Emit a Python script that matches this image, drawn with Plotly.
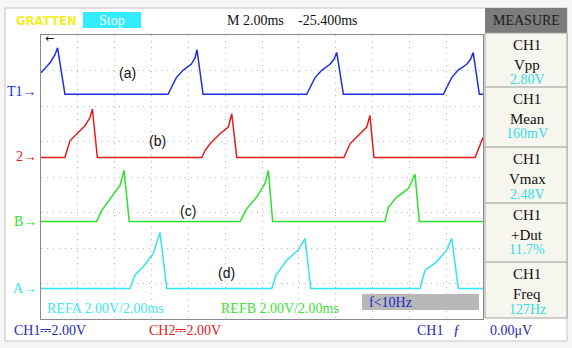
import plotly.graph_objects as go

W, H = 572, 348

blue_t = [0.00, 0.49, 0.76, 0.90, 1.30, 6.90, 7.08, 7.35, 7.71, 8.15, 8.36, 8.47, 8.80,
          14.43, 14.61, 14.88, 15.24, 15.69, 15.91, 16.06, 16.42,
          21.85, 22.03, 22.30, 22.64, 23.12, 23.32, 23.47, 23.80, 24.00]
blue_v = [1.21, 1.77, 2.23, 2.62, 0, 0, 0.38, 0.94, 1.35, 1.69, 2.03, 2.51, 0,
          0, 0.38, 0.94, 1.35, 1.69, 1.97, 2.35, 0,
          0, 0.38, 0.94, 1.35, 1.69, 1.97, 2.35, 0, 0]

red_t = [0, 1.30, 1.57, 1.94, 2.39, 2.66, 2.79, 3.06,
         8.73, 8.91, 9.18, 9.72, 10.17, 10.36, 10.63,
         16.45, 16.62, 16.78, 17.23, 17.69, 17.86, 18.08,
         23.57, 23.73, 24.0]
red_v = [0, 0, 0.94, 1.32, 1.79, 2.25, 2.73, 0,
         0, 0.39, 0.77, 1.34, 1.71, 2.46, 0,
         0, 0.39, 0.77, 1.24, 1.71, 2.37, 0,
         0, 0.39, 1.13]

green_t = [0, 3.02, 3.30, 3.84, 4.29, 4.51, 4.79,
           10.81, 11.17, 11.71, 12.16, 12.34, 12.58,
           18.68, 18.86, 19.32, 19.94, 20.31, 20.54, 24.0]
green_v = [0, 0, 0.62, 1.37, 2.03, 2.87, 0,
           0, 0.72, 1.37, 2.12, 2.87, 0,
           0, 0.79, 1.37, 1.84, 2.65, 0, 0]

cyan_t = [0, 4.83, 5.10, 5.55, 6.10, 6.46, 6.83,
          12.53, 12.76, 13.34, 13.97, 14.34, 14.65,
          20.58, 20.85, 21.49, 22.03, 22.30, 22.66, 24.0]
cyan_v = [0, 0, 0.75, 1.22, 1.97, 3.16, 0,
          0, 0.75, 1.59, 2.16, 2.82, 0,
          0, 1.03, 1.50, 2.16, 2.82, 0, 0]

channel_names = ["T1", "2", "B", "A"]
channel_labels = ["(a)", "(b)", "(c)", "(d)"]
channel_colors = ["#1f2fe0", "#e41b1b", "#2ee02e", "#33e3ef"]
channel_offsets = [6.33, 4.55, 2.75, 0.86]  # baseline position, divisions from bottom
volts_per_div = 2.0

measure_names = ["Vpp", "Mean", "Vmax", "+Dut", "Freq"]
measure_values = ["2.80V", "160mV", "2.48V", "11.7%", "127Hz"]

series = [(blue_t, blue_v), (red_t, red_v), (green_t, green_v), (cyan_t, cyan_v)]

# ---- geometry helpers (pixels -> paper) ----
def px(x):
    return x / W

def py(y):
    return 1 - y / H

GX0, GX1, GY0, GY1 = 41, 483, 35, 319

fig = go.Figure()
for i, ((t, v), col) in enumerate(zip(series, channel_colors)):
    off = channel_offsets[i]
    fig.add_trace(go.Scatter(x=t, y=[off + vv / volts_per_div for vv in v], mode="lines",
                             line=dict(color=col, width=1.5), hoverinfo="skip", showlegend=False))

shapes = []
annotations = []

def rect(x0, y0, x1, y1, fill, line="rgba(0,0,0,0)", lw=1):
    shapes.append(dict(type="rect", xref="paper", yref="paper", x0=px(x0), x1=px(x1),
                       y0=py(y1), y1=py(y0), fillcolor=fill, line=dict(color=line, width=lw),
                       layer="below"))

def hline(x0, x1, y, color="#9a9a9a", lw=1):
    shapes.append(dict(type="line", xref="paper", yref="paper", x0=px(x0), x1=px(x1),
                       y0=py(y), y1=py(y), line=dict(color=color, width=lw), layer="above"))

def text(x, y, s, color="#111111", size=14, xanchor="left", family="Liberation Serif, DejaVu Serif, serif"):
    annotations.append(dict(xref="paper", yref="paper", x=px(x), y=py(y), text=s, showarrow=False,
                            xanchor=xanchor, yanchor="middle",
                            font=dict(color=color, size=size, family=family)))

# screen frame
rect(5, 8, 567, 341, "#ffffff", "#c4c4c4")
# measure panel
rect(485, 8, 567, 33, "#7c7c7c")
rect(485, 33, 567, 318, "#f6f6ee", "#a0a0a0")
for yy in [87, 147, 203, 262]:
    hline(485, 567, yy)
text(526, 20, "MEASURE", "#1c1c1c", 14, "center")
box_tops = [33, 87, 147, 203, 262]
for top, nm, val in zip(box_tops, measure_names, measure_values):
    text(527, top + 12, "CH1", "#111111", 15, "center")
    text(527, top + 32, nm, "#111111", 15, "center")
    text(527, top + 47, val, "#33dde8", 14, "center")

# top bar
text(14, 20, "<b>GRATTEN</b>", "#f2ee2a", 13, "left", "DejaVu Sans Condensed, DejaVu Sans, sans-serif")
rect(83, 12, 141, 28, "#33ecff")
text(112, 20, "Stop", "#ffffff", 14, "center")
text(225, 20, "M 2.00ms", "#111111", 14, "left")
text(296, 20, "-25.400ms", "#111111", 14, "left")
text(43, 38, "←", "#111111", 11, "left", "DejaVu Sans, sans-serif")

# channel markers
marker_y = [91, 157, 221, 288]
for nm, col, yy in zip(channel_names, channel_colors, marker_y):
    text(39, yy, nm + "→", col, 14, "right")

# waveform labels
label_pos = [(127, 73), (158, 141), (188, 211), (226, 273)]
for lab, (xx, yy) in zip(channel_labels, label_pos):
    text(xx, yy, lab, "#111111", 14, "center", "Liberation Sans, Arial, sans-serif")

# bottom info inside grid
text(45, 308, "REFA 2.00V/2.00ms", "#3fe6ee", 14, "left")
text(219, 308, "REFB 2.00V/2.00ms", "#3be23b", 14, "left")
rect(362, 294, 479, 310, "#b8b8b8")
text(367, 302, "f&lt;10Hz", "#2424c8", 14, "left")

# status line
text(12, 330, "CH1⎓2.00V", "#2a2ab8", 14, "left")
text(147, 330, "CH2⎓2.00V", "#e02020", 14, "left")
text(415, 330, "CH1", "#2a2ab8", 14, "left")
text(451, 330, "ƒ", "#2a2ab8", 15, "left")
text(488, 330, "0.00μV", "#2a2ab8", 14, "left")

fig.update_layout(
    width=W, height=H, margin=dict(l=0, r=0, t=0, b=0),
    paper_bgcolor="#f6f6f6", plot_bgcolor="#ffffff",
    shapes=shapes, annotations=annotations,
    xaxis=dict(domain=[px(GX0), px(GX1)], range=[0, 24], dtick=2, tick0=0,
               showgrid=True, gridcolor="#b8b8b8", griddash="1px,5px", gridwidth=1,
               zeroline=False, showticklabels=False, ticks="",
               showline=True, linecolor="#8a8a8a", linewidth=1, mirror=True),
    yaxis=dict(domain=[py(GY1), py(GY0)], range=[0, 8], dtick=1, tick0=0,
               showgrid=True, gridcolor="#b8b8b8", griddash="1px,5px", gridwidth=1,
               zeroline=False, showticklabels=False, ticks="",
               showline=True, linecolor="#8a8a8a", linewidth=1, mirror=True),
)

fig.write_html("out.html", config={"displayModeBar": False},
               post_script="document.body.style.margin='0';document.body.style.overflow='hidden';")
